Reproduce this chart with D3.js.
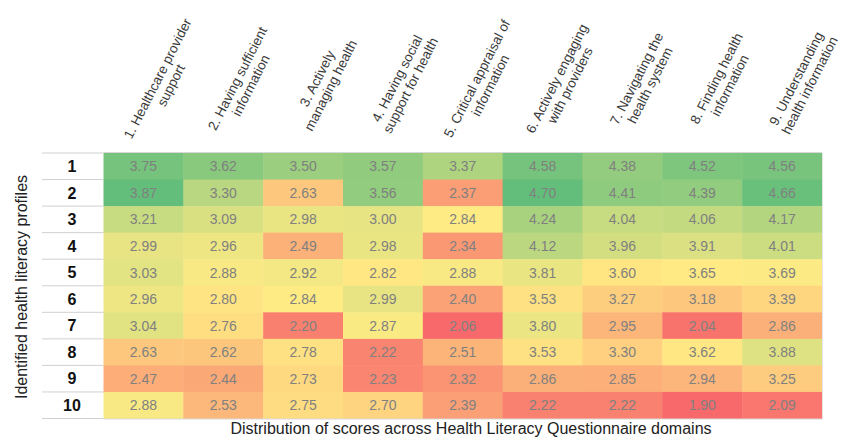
<!DOCTYPE html>
<html><head><meta charset="utf-8">
<script src="https://cdn.jsdelivr.net/npm/d3@7"></script>
<style>html,body{margin:0;padding:0;background:#fff;} svg{display:block;}</style>
</head><body>
<svg id="chart" width="844" height="445"></svg>
<script>
// ---- data ----
const domains = [
  ["1. Healthcare provider", "support"],
  ["2. Having sufficient", "information"],
  ["3. Actively", "managing health"],
  ["4. Having social", "support for health"],
  ["5. Critical appraisal of", "information"],
  ["6. Actively engaging", "with providers"],
  ["7. Navigating the", "health system"],
  ["8. Finding health", "information"],
  ["9. Understanding", "health information"]
];
const profiles = ["1", "2", "3", "4", "5", "6", "7", "8", "9", "10"];
const scores = [
  [3.75, 3.62, 3.50, 3.57, 3.37, 4.58, 4.38, 4.52, 4.56],
  [3.87, 3.30, 2.63, 3.56, 2.37, 4.70, 4.41, 4.39, 4.66],
  [3.21, 3.09, 2.98, 3.00, 2.84, 4.24, 4.04, 4.06, 4.17],
  [2.99, 2.96, 2.49, 2.98, 2.34, 4.12, 3.96, 3.91, 4.01],
  [3.03, 2.88, 2.92, 2.82, 2.88, 3.81, 3.60, 3.65, 3.69],
  [2.96, 2.80, 2.84, 2.99, 2.40, 3.53, 3.27, 3.18, 3.39],
  [3.04, 2.76, 2.20, 2.87, 2.06, 3.80, 2.95, 2.04, 2.86],
  [2.63, 2.62, 2.78, 2.22, 2.51, 3.53, 3.30, 3.62, 3.88],
  [2.47, 2.44, 2.73, 2.23, 2.32, 2.86, 2.85, 2.94, 3.25],
  [2.88, 2.53, 2.75, 2.70, 2.39, 2.22, 2.22, 1.90, 2.09]
];
// domains 1-5 are scored on a 4-point scale, 6-9 on a 5-point scale
const scaleGroup = [0, 0, 0, 0, 0, 1, 1, 1, 1];
const xTitle = "Distribution of scores across Health Literacy Questionnaire domains";
const yTitle = "Identified health literacy profiles";

// ---- layout ----
const svg = d3.select("#chart");
const labelLeft = 42, cellLeft = 103.5, cellRight = 822, gridTop = 153, gridBottom = 418.5;

const x = d3.scaleBand().domain(d3.range(domains.length)).range([cellLeft, cellRight]);
const y = d3.scaleBand().domain(profiles).range([gridTop, gridBottom]);

// colour scales: min -> red, median -> yellow, max -> green (per scale group)
const colorScales = [0, 1].map(g => {
  const vals = [];
  scores.forEach(row => row.forEach((v, j) => { if (scaleGroup[j] === g) vals.push(v); }));
  return d3.scaleLinear()
    .domain([d3.min(vals), d3.median(vals), d3.max(vals)])
    .range(["#F8696B", "#FFEB84", "#63BE7B"])
    .interpolate(d3.interpolateRgb)
    .clamp(true);
});

const cells = [];
scores.forEach((row, i) => row.forEach((v, j) => cells.push({p: profiles[i], j, v})));

// cells
svg.append("g").selectAll("rect").data(cells).join("rect")
  .attr("x", d => x(d.j))
  .attr("y", d => y(d.p))
  .attr("width", x.bandwidth() + 0.5)
  .attr("height", y.bandwidth() + 0.5)
  .attr("fill", d => colorScales[scaleGroup[d.j]](d.v));

svg.append("g").selectAll("text").data(cells).join("text")
  .attr("x", d => x(d.j) + x.bandwidth() / 2)
  .attr("y", d => y(d.p) + y.bandwidth() / 2)
  .attr("dy", "0.36em")
  .attr("text-anchor", "middle")
  .attr("font-family", "'Liberation Sans', Arial, sans-serif")
  .attr("font-size", 14)
  .attr("fill", "#808080")
  .text(d => d.v.toFixed(2));

// row separator lines
const boundaries = profiles.map(p => y(p)).concat([gridBottom]);
svg.append("g").selectAll("line").data(boundaries).join("line")
  .attr("x1", labelLeft).attr("x2", cellLeft)
  .attr("y1", d => d).attr("y2", d => d)
  .attr("stroke", "#d0d0d0").attr("stroke-width", 1);
svg.append("line").attr("x1", cellLeft).attr("x2", cellRight)
  .attr("y1", gridTop - 0.5).attr("y2", gridTop - 0.5).attr("stroke", "#d8d8d8");
svg.append("line").attr("x1", cellLeft).attr("x2", cellRight)
  .attr("y1", gridBottom + 0.5).attr("y2", gridBottom + 0.5).attr("stroke", "#d8d8d8");
svg.append("line").attr("x1", cellRight + 0.5).attr("x2", cellRight + 0.5)
  .attr("y1", gridTop).attr("y2", gridBottom).attr("stroke", "#e4e4e4");

// row labels
svg.append("g").selectAll("text").data(profiles).join("text")
  .attr("x", 72)
  .attr("y", d => y(d) + y.bandwidth() / 2)
  .attr("dy", "0.36em")
  .attr("text-anchor", "middle")
  .attr("font-family", "'Liberation Sans', Arial, sans-serif")
  .attr("font-size", 16)
  .attr("font-weight", "bold")
  .attr("fill", "#111")
  .text(d => d);

// column headers (rotated, two centred lines)
const hdr = svg.append("g").selectAll("g").data(domains).join("g")
  .attr("transform", (d, j) => `translate(${x(j) + x.bandwidth() / 2 + 21},82) rotate(-63)`);
hdr.each(function(d) {
  const g = d3.select(this);
  d.forEach((line, k) => {
    g.append("text")
      .attr("x", 0)
      .attr("y", k === 0 ? -3 : 12)
      .attr("text-anchor", "middle")
      .attr("font-family", "'Liberation Sans', Arial, sans-serif")
      .attr("font-size", 13.5)
      .attr("fill", "#3a3a3a")
      .text(line);
  });
});

// axis titles
svg.append("text")
  .attr("x", 471).attr("y", 434)
  .attr("text-anchor", "middle")
  .attr("font-family", "'Liberation Sans', Arial, sans-serif")
  .attr("font-size", 16)
  .attr("fill", "#222")
  .text(xTitle);

svg.append("text")
  .attr("transform", "translate(27,287) rotate(-90)")
  .attr("text-anchor", "middle")
  .attr("font-family", "'Liberation Sans', Arial, sans-serif")
  .attr("font-size", 16)
  .attr("fill", "#222")
  .text(yTitle);
</script>
</body></html>
